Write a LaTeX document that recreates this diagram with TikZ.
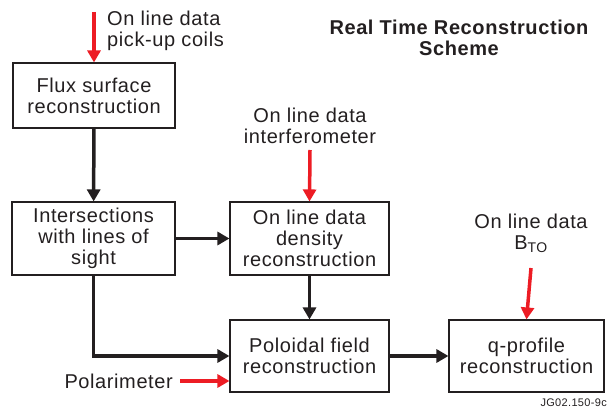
\documentclass[tikz,border=0pt]{standalone}
\usepackage{fontspec}
\setmainfont{Liberation Sans}[LetterSpace=3]
\usepackage{tikz}
\usetikzlibrary{arrows.meta, positioning}
\definecolor{ink}{RGB}{35,31,32}
\definecolor{feed}{RGB}{237,28,36}

\begin{document}
\begin{tikzpicture}[x=1pt, y=-1pt,
  box/.style={rectangle, draw=ink, line width=1.1pt, inner sep=0pt, align=center,
    text=ink, font=\fontsize{20}{21}\selectfont},
  lbl/.style={inner sep=0pt, text=ink, font=\fontsize{20}{21}\selectfont},
  flow/.style={-{Triangle[length=12pt, width=13pt]}, line width=3.5pt, draw=ink},
  feedin/.style={-{Triangle[length=12pt, width=13pt]}, line width=3.5pt, draw=feed}]
  \useasboundingbox (0,0) rectangle (612,414);
  % boxes
  \node[box, minimum width=162pt, minimum height=65pt] (flux) at (94,95.5)
    {Flux surface\\reconstruction};
  \node[box, minimum width=163pt, minimum height=73pt] (inter) at (93.5,238.5)
    {Intersections\\with lines of\\sight};
  \node[box, minimum width=159pt, minimum height=73pt] (dens) at (309.5,238.5)
    {On line data\\density\\reconstruction};
  \node[box, minimum width=159pt, minimum height=72pt] (pol) at (309.5,356)
    {Poloidal field\\reconstruction};
  \node[box, minimum width=155pt, minimum height=72pt] (qprof) at (526.5,356)
    {q-profile\\reconstruction};
  % inputs
  \node[lbl, anchor=north west, align=left] (coils) at (107,11) {On line data\\pick-up coils};
  \node[lbl, anchor=north, align=center] (interf) at (310,108) {On line data\\interferometer};
  \node[lbl, anchor=north, align=center] (bto) at (531,214) {On line data\\B\textsubscript{TO}};
  \node[lbl, anchor=east] (polar) at (173,381) {Polarimeter};
  \node[inner sep=0pt, align=center, text=ink, font=\fontsize{20}{21}\bfseries] (title) at (459,38)
    {Real Time Reconstruction\\Scheme};
  \node[inner sep=0pt, anchor=base east, text=ink, font=\fontsize{11}{12}\selectfont] (tag) at (607,406)
    {JG02.150-9c};
  \coordinate (coilsin) at (94,12);
  \coordinate (interfin) at (310,150);
  \coordinate (btoin) at (531,268);
  \coordinate (polarin) at (180,381);
  % connectors
  \draw[feedin] (coilsin) -- (flux.north);
  \draw[feedin] (interfin) -- (dens.north);
  \draw[feedin] (btoin) -- (qprof.north);
  \draw[feedin] (polarin) -- (polarin -| pol.west);
  \draw[flow] (flux) -- (inter);
  \draw[flow] (inter) -- (dens);
  \draw[flow] (dens) -- (pol);
  \draw[flow] (inter.south) |- (pol.west);
  \draw[flow] (pol) -- (qprof);
\end{tikzpicture}
\end{document}
